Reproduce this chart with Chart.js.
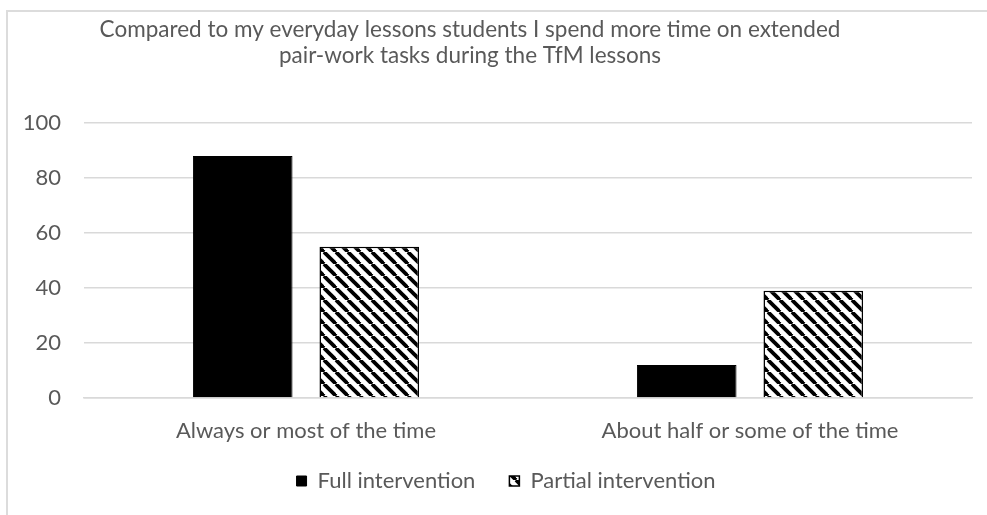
<!DOCTYPE html>
<html>
<head>
<meta charset="utf-8">
<script src="https://cdn.jsdelivr.net/npm/chart.js@4.4.1/dist/chart.umd.min.js"></script>
<style>
  html, body { margin: 0; padding: 0; background: #fff; }
  #wrap { position: relative; width: 987px; height: 515px; overflow: hidden; }
  #frame { position: absolute; left: 6px; top: 10px; width: 1100px; height: 700px; border: 2px solid #dcdcdc; box-sizing: border-box; }
  canvas { position: absolute; left: 0; top: 0; }
</style>
</head>
<body>
<div id="wrap">
  <div id="frame"></div>
  <canvas id="c" width="987" height="515"></canvas>
</div>
<script>
const titleLines = ["Compared to my everyday lessons students I spend more time on extended", "pair-work tasks during the TfM lessons"];
const categories = ["Always or most of the time", "About half or some of the time"];
const seriesNames = ["Full intervention", "Partial intervention"];
const fullValues = [88, 12];
const partialValues = [55, 39];
const yTicks = [0, 20, 40, 60, 80, 100];

const FONT = "Lato, 'Open Sans', sans-serif";
const TEXT = "#595959";
const GRID = "#d9d9d9";
const FS = 22;

function makeStripes() {
  const s = 12;
  const t = document.createElement('canvas');
  t.width = s; t.height = s;
  const g = t.getContext('2d');
  g.fillStyle = '#fff';
  g.fillRect(0, 0, s, s);
  g.strokeStyle = '#000';
  g.lineWidth = 3.8;
  for (const o of [-s, 0, s]) {
    g.beginPath();
    g.moveTo(o, 0);
    g.lineTo(o + s, s);
    g.stroke();
  }
  return document.getElementById('c').getContext('2d').createPattern(t, 'repeat');
}
const stripes = makeStripes();

const titlePlugin = {
  id: 'customTitle',
  afterLayout(chart) {
    // place the legend row like the reference
    chart.legend.left = 40;
    chart.legend.top = 436;
  },
  afterDraw(chart) {
    const ctx = chart.ctx;
    ctx.save();
    ctx.fillStyle = TEXT;
    ctx.font = "22.5px " + FONT;
    ctx.textAlign = 'center';
    ctx.textBaseline = 'middle';
    ctx.fillText(titleLines[0], 470, 30);
    ctx.fillText(titleLines[1], 470, 56);
    ctx.restore();
  }
};

new Chart(document.getElementById('c'), {
  type: 'bar',
  data: {
    labels: categories,
    datasets: [
      { label: seriesNames[0], data: fullValues, backgroundColor: '#000', borderColor: '#000', borderWidth: 1 },
      { label: seriesNames[1], data: partialValues, backgroundColor: stripes, borderColor: '#000', borderWidth: 1.5 }
    ]
  },
  options: {
    responsive: false,
    animation: false,
    devicePixelRatio: 1,
    layout: { padding: { top: 123, right: 15, left: 0, bottom: 4 } },
    datasets: { bar: { categoryPercentage: 0.57, barPercentage: 0.787 } },
    plugins: {
      title: { display: false },
      tooltip: { enabled: false },
      legend: {
        position: 'bottom',
        labels: {
          color: TEXT,
          font: { family: FONT, size: FS },
          boxWidth: 10, boxHeight: 10,
          padding: 34,
          useBorderRadius: false
        }
      }
    },
    scales: {
      x: {
        grid: { display: false, drawTicks: false },
        border: { display: true, color: GRID, width: 1.5 },
        ticks: { color: TEXT, font: { family: FONT, size: FS }, padding: 20 },
        afterFit(scale) { scale.height = 47; }
      },
      y: {
        min: 0, max: 100,
        afterBuildTicks(scale) { scale.ticks = yTicks.map(v => ({ value: v })); },
        grid: { color: GRID, lineWidth: 1.5, drawTicks: false },
        border: { display: false },
        ticks: { color: TEXT, font: { family: FONT, size: FS }, padding: 23 },
        afterFit(scale) { scale.width = 84; }
      }
    }
  },
  plugins: [titlePlugin]
});
</script>
</body>
</html>
